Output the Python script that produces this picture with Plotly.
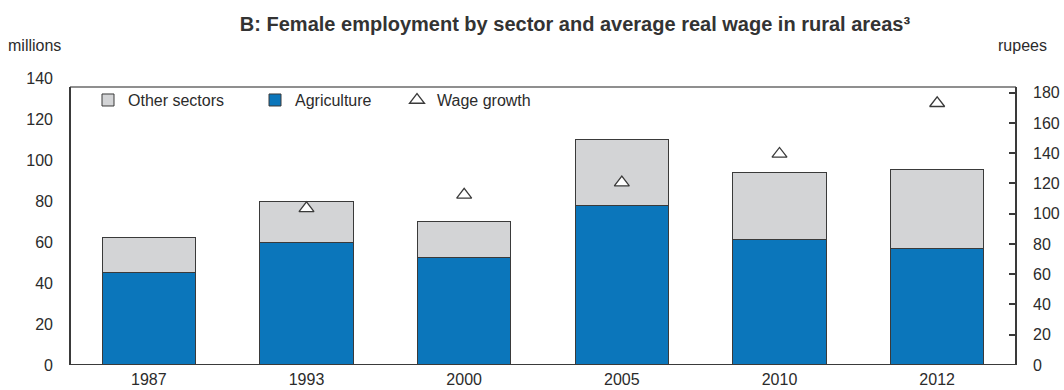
import plotly.graph_objects as go

years = ["1987", "1993", "2000", "2005", "2010", "2012"]
agriculture = [45, 60, 52.5, 78, 61, 56.6]
total_employment = [62, 80, 70.2, 110, 93.7, 95.2]
other_sectors = [t - a for t, a in zip(total_employment, agriculture)]
wage = [None, 103.5, 112.5, 120.5, 139.5, 173]

left_ticks = [0, 20, 40, 60, 80, 100, 120, 140]
right_ticks = [0, 20, 40, 60, 80, 100, 120, 140, 160, 180]

FONT = "Liberation Sans, Arial, sans-serif"
FS = 16
BLUE = "#0B76BB"
GREY = "#D3D4D6"
EDGE = "#3a3a3a"
TXT = "#2b2b2b"

PLOT_L, PLOT_W = 70, 946


def px_x(p):
    return (p - PLOT_L) / PLOT_W


fig = go.Figure()
fig.add_trace(go.Bar(x=years, y=agriculture, name="Agriculture", legend="legend2",
                     marker=dict(color=BLUE, line=dict(color=EDGE, width=1))))
fig.add_trace(go.Bar(x=years, y=other_sectors, name="Other sectors", legend="legend",
                     marker=dict(color=GREY, line=dict(color=EDGE, width=1))))
fig.add_trace(go.Scatter(x=years, y=wage, name="Wage growth", mode="markers",
                         yaxis="y2", legend="legend3",
                         marker=dict(symbol="triangle-up", size=13, color="white",
                                     line=dict(color=EDGE, width=1.3))))

LEFT_MAX = 140
FRAME_TOP = 135.6
RIGHT_MAX = 189.7

leg_common = dict(orientation="h", xanchor="left", y=0.923, yanchor="middle",
                  font=dict(family=FONT, size=FS, color=TXT),
                  bgcolor="rgba(0,0,0,0)", itemwidth=30)

fig.update_layout(
    template="none",
    width=1064, height=390,
    margin=dict(l=70, r=48, t=78, b=25, autoexpand=False),
    paper_bgcolor="white", plot_bgcolor="white",
    barmode="stack", bargap=0.41,
    font=dict(family=FONT, size=FS, color=TXT),
    showlegend=True,
    legend=dict(x=px_x(128 - 40), **leg_common),
    legend2=dict(x=px_x(295 - 40), **leg_common),
    legend3=dict(x=px_x(437 - 40), **leg_common),
    xaxis=dict(type="category", showline=False, showgrid=False, ticks="",
               ticklabelstandoff=3, automargin=False,
               tickfont=dict(size=FS, color=TXT), zeroline=False),
    yaxis=dict(range=[0, LEFT_MAX], tickvals=left_ticks, showgrid=False, zeroline=False,
               ticks="", showline=False, ticklabelstandoff=16, automargin=False,
               tickfont=dict(size=FS, color=TXT)),
    yaxis3=dict(range=[0, LEFT_MAX], tickvals=left_ticks[:-1], overlaying="y", side="left",
                showticklabels=False, ticks="inside", ticklen=7, tickwidth=1.5,
                automargin=False,
                tickcolor=EDGE, showgrid=False, zeroline=False, showline=False),
    yaxis2=dict(range=[0, RIGHT_MAX], tickvals=right_ticks, overlaying="y", side="right",
                ticks="inside", ticklen=7, tickwidth=1.5, tickcolor=EDGE, automargin=False,
                showgrid=False, zeroline=False, showline=False, ticklabelstandoff=16,
                tickfont=dict(size=FS, color=TXT)),
    title=dict(text="<b>B: Female employment by sector and average real wage in rural areas³</b>",
               x=575 / 1064, xanchor="center", y=1 - 24 / 390, yanchor="middle",
               font=dict(family=FONT, size=20, color="#333333")),
    annotations=[
        dict(text="millions", xref="paper", yref="paper", x=px_x(6), y=(365 - 45) / 287,
             xanchor="left", yanchor="middle", showarrow=False,
             font=dict(size=FS, color=TXT)),
        dict(text="rupees", xref="paper", yref="paper", x=px_x(1049), y=(365 - 45) / 287,
             xanchor="right", yanchor="middle", showarrow=False,
             font=dict(size=FS, color=TXT)),
    ],
    shapes=[
        dict(type="line", xref="paper", yref="y", x0=0, x1=1, y0=FRAME_TOP, y1=FRAME_TOP,
             line=dict(color="#6a6a6a", width=1.5), layer="above"),
        dict(type="line", xref="paper", yref="y", x0=0, x1=0, y0=0, y1=FRAME_TOP,
             line=dict(color=EDGE, width=2), layer="above"),
        dict(type="line", xref="paper", yref="y", x0=1, x1=1, y0=0, y1=FRAME_TOP,
             line=dict(color=EDGE, width=2), layer="above"),
        dict(type="line", xref="paper", yref="y", x0=0, x1=1, y0=0, y1=0,
             line=dict(color=EDGE, width=2), layer="above"),
    ],
)

fig.write_html("out.html", config={"displayModeBar": False},
               post_script="document.body.style.margin='0';document.body.style.overflow='hidden';")
